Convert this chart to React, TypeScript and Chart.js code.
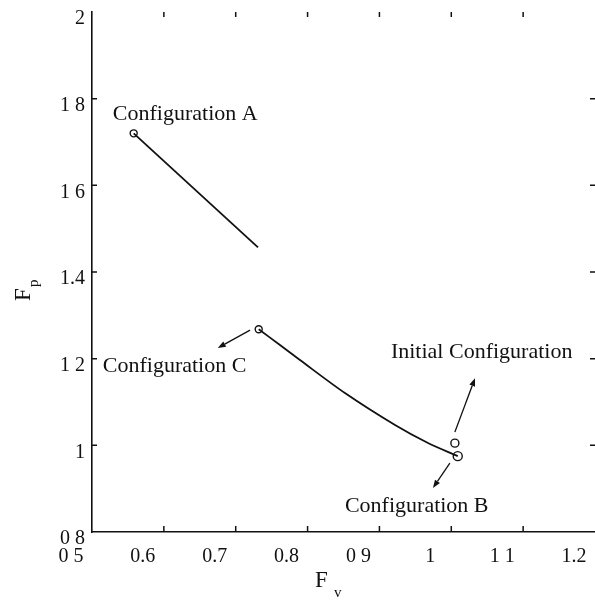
import React, { useEffect, useRef } from "react";
import { Chart, registerables } from "chart.js";
Chart.register(...registerables);

const xTickValues = [0.5, 0.6, 0.7, 0.8, 0.9, 1.0, 1.1, 1.2];
const xTickLabels = ["0 5", "0.6", "0.7", "0.8", "0 9", "1", "1 1", "1.2"];
const yTickValues = [0.8, 1.0, 1.2, 1.4, 1.6, 1.8, 2.0];
const yTickLabels = ["0 8", "1", "1 2", "1.4", "1 6", "1 8", "2"];

const lineAFv = [0.558, 0.731];
const lineAFp = [1.72, 1.457];
const curveFv = [0.732, 0.7616, 0.7894, 0.852, 0.9217, 0.9676, 1.009];
const curveFp = [1.268, 1.2314, 1.1968, 1.1206, 1.0468, 1.0053, 0.975];
const markerFv = [0.558, 0.732, 1.009, 1.005];
const markerFp = [1.72, 1.268, 0.975, 1.005];

const labelTexts = ["Configuration A", "Configuration C", "Initial Configuration", "Configuration B"];
const labelFv = [0.529, 0.515, 0.916, 0.852];
const labelFp = [1.75, 1.169, 1.201, 0.846];

const arrowFromFv = [0.72, 1.005, 0.998];
const arrowFromFp = [1.266, 1.031, 0.959];
const arrowToFv = [0.675, 1.033, 0.9745];
const arrowToFp = [1.2245, 1.155, 0.9015];

const SERIF = "'Liberation Serif', 'DejaVu Serif', serif";
const INK = "#111";

const overlay = {
  id: "overlay",
  afterDatasetsDraw(chart: any) {
    const { ctx, chartArea: ca } = chart;
    const xs = chart.scales.x;
    const ys = chart.scales.y;
    ctx.save();
    ctx.strokeStyle = INK;
    ctx.fillStyle = INK;
    ctx.lineWidth = 1.5;
    // inward ticks
    const tl = 5;
    xTickValues.slice(1, -1).forEach((v) => {
      const px = xs.getPixelForValue(v);
      ctx.beginPath();
      ctx.moveTo(px, ca.bottom);
      ctx.lineTo(px, ca.bottom - tl - 1);
      ctx.moveTo(px, ca.top);
      ctx.lineTo(px, ca.top + tl);
      ctx.stroke();
    });
    yTickValues.slice(1, -1).forEach((v) => {
      const py = ys.getPixelForValue(v);
      ctx.beginPath();
      ctx.moveTo(ca.left, py);
      ctx.lineTo(ca.left + tl, py);
      ctx.moveTo(ca.right, py);
      ctx.lineTo(ca.right - tl, py);
      ctx.stroke();
    });
    // arrows
    ctx.lineWidth = 1.3;
    for (let i = 0; i < arrowFromFv.length; i++) {
      const x0 = xs.getPixelForValue(arrowFromFv[i]);
      const y0 = ys.getPixelForValue(arrowFromFp[i]);
      const x1 = xs.getPixelForValue(arrowToFv[i]);
      const y1 = ys.getPixelForValue(arrowToFp[i]);
      const ang = Math.atan2(y1 - y0, x1 - x0);
      const hl = 8, hw = 3;
      const bx = x1 - hl * Math.cos(ang);
      const by = y1 - hl * Math.sin(ang);
      ctx.beginPath();
      ctx.moveTo(x0, y0);
      ctx.lineTo(bx, by);
      ctx.stroke();
      ctx.beginPath();
      ctx.moveTo(x1, y1);
      ctx.lineTo(bx + hw * Math.sin(ang), by - hw * Math.cos(ang));
      ctx.lineTo(bx - hw * Math.sin(ang), by + hw * Math.cos(ang));
      ctx.closePath();
      ctx.fill();
    }
    // labels
    ctx.font = `22px ${SERIF}`;
    ctx.textAlign = "left";
    ctx.textBaseline = "alphabetic";
    labelTexts.forEach((t, i) => {
      ctx.fillText(t, xs.getPixelForValue(labelFv[i]), ys.getPixelForValue(labelFp[i]));
    });
    // axis titles
    ctx.font = `23px ${SERIF}`;
    ctx.fillText("F", 315, 587);
    ctx.font = `15px ${SERIF}`;
    ctx.fillText("v", 334, 597);
    ctx.save();
    ctx.translate(30, 301);
    ctx.rotate(-Math.PI / 2);
    ctx.font = `23px ${SERIF}`;
    ctx.fillText("F", 0, 0);
    ctx.font = `15px ${SERIF}`;
    ctx.fillText("p", 14, 8);
    ctx.restore();
    ctx.restore();
  },
};

export default function App() {
  const ref = useRef<HTMLCanvasElement | null>(null);
  useEffect(() => {
    if (!ref.current) return;
    const chart = new Chart(ref.current, {
      type: "scatter",
      data: {
        datasets: [
          {
            data: lineAFv.map((x, i) => ({ x, y: lineAFp[i] })),
            showLine: true,
            borderColor: INK,
            borderWidth: 1.8,
            pointRadius: 0,
            tension: 0,
          },
          {
            data: curveFv.map((x, i) => ({ x, y: curveFp[i] })),
            showLine: true,
            borderColor: INK,
            borderWidth: 1.8,
            pointRadius: 0,
            tension: 0.3,
          },
          {
            data: markerFv.map((x, i) => ({ x, y: markerFp[i] })),
            showLine: false,
            borderColor: INK,
            backgroundColor: "rgba(0,0,0,0)",
            borderWidth: 1.4,
            pointRadius: [3.5, 3.5, 4.5, 4],
          },
        ],
      } as any,
      options: {
        responsive: false,
        animation: false,
        events: [],
        layout: { autoPadding: false, padding: { top: 12, left: 0, right: 0, bottom: 0 } },
        plugins: { legend: { display: false }, tooltip: { enabled: false }, title: { display: false } },
        scales: {
          x: {
            type: "linear",
            min: 0.5,
            max: 1.2,
            afterBuildTicks: (s: any) => {
              s.ticks = xTickValues.map((v) => ({ value: v }));
            },
            afterFit: (s: any) => {
              s.height = 68;
              s.paddingLeft = 0;
              s.paddingRight = 0;
            },
            grid: { display: true, drawOnChartArea: false, drawTicks: false },
            border: { display: true, color: INK, width: 1.6 },
            ticks: {
              callback: (_v: any, i: number) => xTickLabels[i],
              color: INK,
              font: { family: SERIF, size: 20 },
              padding: 13,
              labelOffset: -21,
              maxRotation: 0,
              autoSkip: false,
            },
          },
          y: {
            type: "linear",
            min: 0.8,
            max: 2.0,
            afterBuildTicks: (s: any) => {
              s.ticks = yTickValues.map((v) => ({ value: v }));
            },
            afterFit: (s: any) => {
              s.width = 92;
              s.paddingTop = 0;
              s.paddingBottom = 0;
            },
            grid: { display: true, drawOnChartArea: false, drawTicks: false },
            border: { display: true, color: INK, width: 1.6 },
            ticks: {
              callback: (_v: any, i: number) => yTickLabels[i],
              color: INK,
              font: { family: SERIF, size: 20 },
              padding: 7,
              labelOffset: 7,
              autoSkip: false,
            },
          },
        },
      } as any,
      plugins: [overlay],
    });
    return () => chart.destroy();
  }, []);
  return (
    <div style={{ position: "absolute", left: 0, top: 0, width: 595, height: 600, background: "#fff", overflow: "hidden" }}>
      <canvas ref={ref} width={595} height={600} style={{ display: "block" }} />
    </div>
  );
}
